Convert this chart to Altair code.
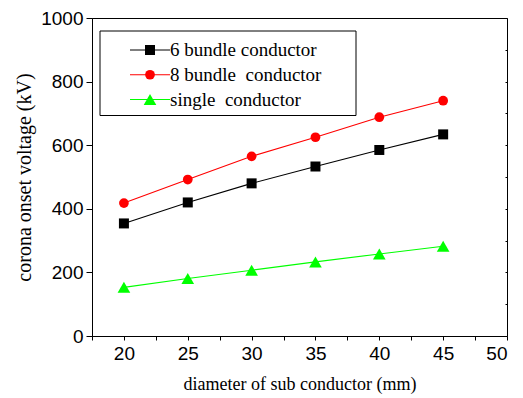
import altair as alt
import pandas as pd

diameters = [20, 25, 30, 35, 40, 45]
six_bundle = [354, 420, 480, 533, 585, 634]
eight_bundle = [418, 492, 565, 625, 688, 740]
single = [153, 181, 207, 233, 258, 282]

series_names = ["6 bundle conductor", "8 bundle  conductor", "single  conductor"]
legend_labels = ["6 bundle conductor", "8 bundle\u00a0 conductor", "\u00a0single\u00a0 conductor"]
legend_rows = [0, 1, 2]
series_colors = ["#000000", "#ff0000", "#00ff00"]
series_shapes = ["square", "circle", "triangle-up"]
series_sizes = [100, 95, 160]

x_ticks = [17.5, 20, 22.5, 25, 27.5, 30, 32.5, 35, 37.5, 40, 42.5, 45, 47.5, 50]
y_major = [0, 200, 400, 600, 800, 1000]
y_all = [0, 100, 200, 300, 400, 500, 600, 700, 800, 900, 1000]

rows = []
for name, sz, vals in zip(series_names, series_sizes, [six_bundle, eight_bundle, single]):
    for d, v in zip(diameters, vals):
        rows.append({"series": name, "d": d, "v": v, "sz": sz})
df = pd.DataFrame(rows)

leg_df = pd.DataFrame({"series": series_names, "label": legend_labels, "row": legend_rows,
                       "sz": series_sizes})

color = alt.Color("series:N", scale=alt.Scale(domain=series_names, range=series_colors), legend=None)
shape = alt.Shape("series:N", scale=alt.Scale(domain=series_names, range=series_shapes), legend=None)
size = alt.Size("sz:Q", scale=None, legend=None)

xscale = alt.Scale(domain=[17.5, 50], nice=False, zero=False)
yscale = alt.Scale(domain=[0, 1000], nice=False)

x_axis = alt.Axis(values=x_ticks, labelExpr="datum.value % 5 === 0 ? datum.label : ''",
                  tickSize=4, labelPadding=4, title="diameter of sub conductor (mm)",
                  titlePadding=12)
y_axis = alt.Axis(values=y_major, format="d", tickSize=6, labelPadding=3,
                  title="corona onset voltage (kV)", titlePadding=6, orient="left")

lines = alt.Chart(df).mark_line(strokeWidth=1.1).encode(
    x=alt.X("d:Q", scale=xscale, axis=x_axis),
    y=alt.Y("v:Q", scale=yscale, axis=y_axis),
    color=color,
    detail="series:N",
)

right = alt.Chart(df).mark_point(opacity=0).encode(
    x=alt.X("d:Q", scale=xscale, axis=x_axis),
    y=alt.Y("v:Q", scale=yscale, axis=alt.Axis(orient="right", values=y_all, labels=False,
                                               domain=False, tickSize=2, offset=-2, title=None)),
)

points = alt.Chart(df).mark_point(filled=True, opacity=1).encode(
    x=alt.X("d:Q", scale=xscale, axis=x_axis),
    y=alt.Y("v:Q", scale=yscale, axis=None),
    color=color,
    shape=shape,
    size=size,
)

data_layer = alt.layer(lines, right, points).resolve_axis(y="independent")

leg_y = alt.Y("row:Q", scale=alt.Scale(domain=[0, 2], range=[32, 81.5], nice=False, zero=False), axis=None)

leg_box = alt.Chart(pd.DataFrame({"a": [0]})).mark_rect(fill="white", stroke="black", strokeWidth=1).encode(
    x=alt.value(8), x2=alt.value(264), y=alt.value(13), y2=alt.value(97.5)
)
leg_rule = alt.Chart(leg_df).mark_rule(strokeWidth=1).encode(
    x=alt.value(38), x2=alt.value(78), y=leg_y, color=color
)
leg_pt = alt.Chart(leg_df).mark_point(filled=True, opacity=1).encode(
    x=alt.value(58), y=leg_y, color=color, shape=shape, size=size
)
leg_text = alt.Chart(leg_df).mark_text(align="left", baseline="middle", font="Liberation Serif",
                                       fontSize=19, color="black").encode(
    x=alt.value(78), y=leg_y, text="label:N"
)
legend_layer = alt.layer(leg_box, leg_rule, leg_pt, leg_text)

chart = alt.layer(data_layer, legend_layer).resolve_scale(
    y="independent"
).properties(
    width=415, height=318,
    padding={"left": 84, "top": 10, "right": 8, "bottom": 58},
    autosize=alt.AutoSizeParams(type="none"),
).configure_view(
    stroke="black", strokeWidth=1
).configure_axis(
    domainColor="black", tickColor="black", domainWidth=1, tickWidth=1,
    labelFont="Liberation Sans", labelFontSize=19, labelColor="black",
    titleFont="Liberation Serif", titleFontSize=19, titleColor="black", titleFontWeight="normal",
    grid=False,
).configure_axisX(titleFontSize=18).configure_axisY(titleFontSize=20)

chart.save("out.html", embed_options={"renderer": "svg", "actions": False})
